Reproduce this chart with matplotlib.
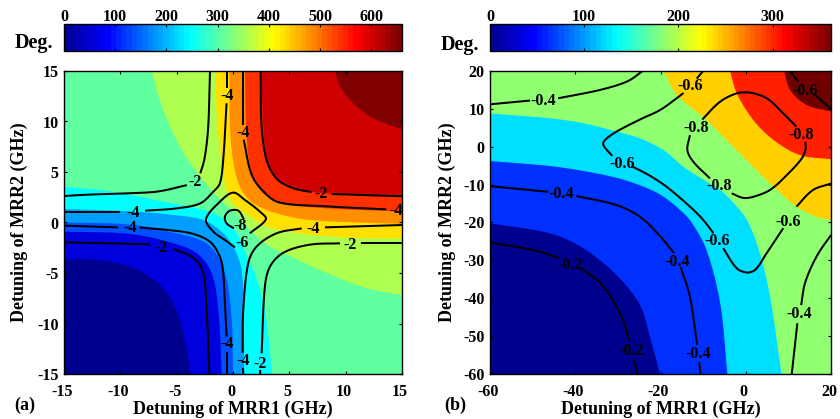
import numpy as np
import matplotlib
matplotlib.use("Agg")
import matplotlib.pyplot as plt
from matplotlib.cm import ScalarMappable
from matplotlib.colors import Normalize, LinearSegmentedColormap
from matplotlib.transforms import ScaledTranslation

plt.rcParams['font.family'] = ['Liberation Serif', 'DejaVu Serif']
plt.rcParams['font.weight'] = 'bold'
plt.rcParams['font.size'] = 11.5

# ---------- panel (a): filled band limits (MRR1 GHz, MRR2 GHz), high to low
a_colors = ['#800000', '#CF0000', '#FF3000', '#FF8F00', '#FFE000', '#AFFF50',
            '#60FF9F', '#00FFFF', '#009FFF', '#0050FF', '#0000DF', '#00008F']
a_b1 = [(9.04,15),(9.5,13.5),(10.5,12),(12.3,10.4),(15,9.2)]
a_b2 = [(2.54,15),(2.68,9.5),(3.05,6.2),(3.8,4.6),(5.3,3.5),(8,2.9),(15,2.6)]
a_b3 = [(1.06,15),(1.2,8.5),(1.65,4.9),(2.68,2.9),(4.46,1.9),(8.3,1.4),(15,1.1)]
a_b4 = [(-0.33,15),(-0.27,9.5),(0,6.2),(0.61,3.55),(1.8,1.9),(3.9,0.9),(6.8,0.25),(15,-0.15)]
a_b5 = [(-1.6,15),(-1.4,10),(-1.1,6.5),(-0.8,4.5),(-0.6,3.2),(0,1.9),(1.5,0.58),(3,-0.4),(5.9,-1.07),(10,-1.5),(15,-1.6)]
a_b6 = [(-7.2,15),(-6.5,12.1),(-5.3,8.8),(-3.8,5.86),(-2.05,3.4),(-0.6,1.7),(0.3,0.9),(1.5,-0.74),(3.3,-2.4),(5,-3.3),(8.3,-5),(11.85,-6.5),(15,-7.2)]
a_b7 = [(-15,3.55),(-10.6,3.05),(-6.2,2.06),(-2.64,1.24),(-1.16,0.58),(0.3,-1),(1.1,-3.0),(1.9,-5.0),(2.83,-8.66),(3.48,-15)]
a_b8 = [(-15,1.34),(-9.1,1.1),(-5.3,0.74),(-2.64,0.25),(-0.87,-1.07),(0.17,-2.7),(0.76,-4.7),(0.95,-9),(1,-15)]
a_b9 = [(-15,0),(-9.1,-0.2),(-5.3,-1),(-2.6,-1.9),(-1.3,-3.4),(-0.5,-6),(-0.1,-10),(0,-15)]
a_b10 = [(-15,-0.9),(-9.1,-1.14),(-5.3,-2.06),(-3.2,-3.05),(-1.9,-5),(-1.3,-8.7),(-1,-15)]
a_b11 = [(-15,-3.64),(-12.1,-3.71),(-9.1,-4.37),(-6.8,-5.85),(-5.3,-8),(-4.4,-11),(-3.76,-15)]
a_bands = [a_b1,a_b2,a_b3,a_b4,a_b5,a_b6,a_b7,a_b8,a_b9,a_b10,a_b11]

# ---------- panel (a): contour lines
a_lines = [
 [(-15,2.62),(-13,2.75),(-9.1,2.9),(-6.8,3.05),(-4.1,3.7)],
 [(-2.9,4.87),(-2.5,6.5),(-2.2,9.5),(-2.04,15)],
 [(-15,1.07),(-10,1.07)],
 [(-7.8,1.17),(-5,1.4),(-2.9,1.9),(-1.75,3.05),(-1.16,3.9),(-0.87,6.2),(-0.57,11.8)],
 [(-0.57,13.3),(-0.57,15)],
 [(0.91,15),(0.91,9.7)],
 [(0.95,8.2),(1.65,4.75),(2.68,3.1),(4.16,1.97),(8.3,1.6),(13.6,1.3)],
 [(2.45,15),(2.54,9.5),(2.98,6.2),(3.87,4.35),(5.35,3.4),(7,3)],
 [(8.75,2.82),(15,2.6)],
 [(0.17,-2.46),(-0.72,-1.73),(-1.75,-0.9),(-2.4,0.32),(-1.16,2.06),(0.02,2.96),(1.06,2.23),(2.39,1.07),(2.92,0.32),(1.5,-1.07)],
 [(0.97,0.32),(0.47,1.17),(-0.27,1.17),(-0.72,0.58),(-0.57,-0.08),(0.08,-0.58)],
 [(-15,-0.31),(-10.2,-0.48)],
 [(-8.25,-0.5),(-5.3,-0.8),(-3.5,-1.14),(-2.05,-1.9),(-1.3,-3.05),(-0.93,-4.37),(-0.72,-8),(-0.57,-11.3)],
 [(-0.57,-12.8),(-0.57,-15)],
 [(-15,-1.96),(-7.4,-2.16)],
 [(-5.3,-2.62),(-3.5,-3.55),(-2.63,-5),(-2.34,-8.66),(-2.1,-15)],
 [(6.1,-0.58),(3.87,-1.07),(2.09,-2.39),(1.35,-4.04),(0.91,-8.66),(0.85,-12.9)],
 [(0.88,-14.4),(0.91,-15)],
 [(8.16,-0.48),(15,-0.25)],
 [(9.5,-2.06),(6.8,-2.2),(4.46,-3),(3.28,-4.37),(2.83,-6.35),(2.54,-12.95)],
 [(2.42,-14.6),(2.4,-15)],
 [(11.4,-2),(15,-2)],
]
a_labels = [('-2',-3.37,4.04),('-4',-8.85,0.97),('-4',-0.57,12.5),('-4',0.91,8.9),('-4',14.46,1.1),
            ('-2',7.86,2.8),('-6',0.76,-2.0),('-8',0.67,-0.34),('-4',-9.1,-0.58),('-2',-6.4,-2.56),
            ('-4',-0.57,-12.0),('-4',0.91,-13.68),('-2',2.39,-14.0),('-4',7.12,-0.67),('-2',10.4,-2.2)]
a_ticks = [-15,-10,-5,0,5,10,15]

# ---------- panel (b): filled band limits, high to low
b_colors = ['#700000','#FF2000','#FFCF00','#90FF70','#00DFFF','#0030FF','#00008F']
b_b1 = [(9,20),(10.4,15),(14.3,11),(20,9.3)]
b_b2 = [(-3.7,20),(-2.1,14.1),(1.8,7),(6.5,1.8),(12.7,-2.2),(20,-3.3)]
b_b3 = [(-19.3,20),(-16.2,13.7),(-9.2,7),(-1.4,-1.75),(6.5,-10.55),(11.9,-15.8),(16.6,-18.5),(20,-19.4)]
b_b4 = [(-60,8.8),(-45.9,7.5),(-38.1,6.2),(-30.3,4),(-24.8,2.2),(-19.3,-0.87),(-14.6,-5.3),(-9.2,-9.2),(-6,-11.4),(-2.1,-15.8),(0.6,-20),(3.3,-28.1),(5.7,-39.6),(8.4,-60)]
b_b5 = [(-60,-3.77),(-45.9,-5.1),(-38.1,-6.4),(-30.3,-8.2),(-24.8,-10.2),(-20.1,-12.6),(-15.4,-16.7),(-12.7,-20),(-9.2,-27.3),(-6,-41.3),(-4.3,-60)]
b_b6 = [(-60,-20.2),(-45.9,-22.9),(-38.1,-26.8),(-30.3,-33.9),(-24.8,-41.8),(-22.5,-50.1),(-20.1,-60)]
b_bands = [b_b1,b_b2,b_b3,b_b4,b_b5,b_b6]

# ---------- panel (b): contour lines
b_lines = [
 [(-60,11.2),(-50.6,12.2)],
 [(-44,12.8),(-34.2,15),(-27.9,17.2),(-24.2,20)],
 [(-14.6,14.2),(-16.2,12.8),(-20.1,9.7),(-24.8,7.2),(-30.3,4),(-33,1.8),(-33.4,0.45),(-31.3,-2.45)],
 [(-11.5,18),(-10,20)],
 [(-26.8,-5.1),(-22.5,-7.65),(-18.6,-10.55),(-13.1,-15.8),(-10,-19.3),(-7.6,-22.8)],
 [(-5.3,-26.8),(-2.1,-32.1),(0.2,-33.2),(2.2,-32.5),(4.9,-28.1),(8.8,-21.5)],
 [(11.9,-15.8),(15.8,-11.4),(20,-9.7)],
 [(-60,-10.4),(-46.3,-11.9)],
 [(-39.7,-13),(-30.3,-15.4),(-24.8,-18.5),(-20.1,-23.6),(-16.8,-28.1)],
 [(-15.3,-31.7),(-13.1,-39.6),(-11.4,-52.3)],
 [(-10.9,-56.8),(-10.6,-60)],
 [(20,-23.3),(16.6,-29),(13.9,-36),(13,-41.8)],
 [(12.1,-46.6),(10.8,-60)],
 [(-60,-25.3),(-49.8,-27.3),(-43.6,-29.5)],
 [(-38.5,-32.1),(-33.4,-36.9),(-29.5,-44),(-27.2,-51.5)],
 [(-26.2,-56.3),(-25.4,-60)],
 [(10.4,20),(12.3,17.2)],
 [(16.2,13.7),(20,10.1)],
 [(-10.2,7.2),(-6,11.9),(-2.1,14.1),(1,14.3),(4.9,12.8),(8.8,8.8),(11.9,5.3)],
 [(14,1.3),(14,-0.8),(13,-3.3),(9.6,-7.5),(5.7,-11.4),(1.8,-13.2),(-0.6,-13.5),(-3.3,-12.3)],
 [(-8.4,-8.35),(-12.3,-3.95),(-13.7,-0.87),(-13.1,3.1)],
]
b_labels = [('-0.4',-47.5,12.2),('-0.6',-29.1,-4.56),('-0.6',-13.1,16),('-0.4',-43.4,-12.6),('-0.6',-6.7,-25),
            ('-0.6',10,-19.8),('-0.4',-16.2,-30.5),('-0.4',-11.1,-54.8),('-0.4',12.5,-44.2),('-0.2',-41.2,-31.2),
            ('-0.2',-26.8,-53.9),('-0.6',14,14.8),('-0.8',13,3.1),('-0.8',-6.3,-10.4),('-0.8',-11.7,5)]
b_xticks = [-60,-40,-20,0,20]
b_yticks = [-60,-50,-40,-30,-20,-10,0,10,20]

# ---------- colour bars
a_cbar_max, a_cbar_ticks = 660, [0,100,200,300,400,500,600]
b_cbar_max, b_cbar_ticks = 362, [0,100,200,300]
jet_nodes = [(0,(0,0,0.5625)),(1/8,(0,0,1)),(3/8,(0,1,1)),(5/8,(1,1,0)),(7/8,(1,0,0)),(1,(0.5,0,0))]


def smooth(points, n=14):
    p = np.asarray(points, float)
    if len(p) < 3:
        return p
    span = p.max(axis=0) - p.min(axis=0)
    span[span == 0] = 1
    q = p / span
    d = np.hypot(*np.diff(q, axis=0).T)
    m = np.zeros_like(p)
    for i in range(1, len(p) - 1):
        m[i] = (p[i + 1] - p[i - 1]) / (d[i] + d[i - 1])
    m[0] = (p[1] - p[0]) / d[0]
    m[-1] = (p[-1] - p[-2]) / d[-1]
    out = []
    for i in range(len(p) - 1):
        t = np.linspace(0, 1, n, endpoint=False)[:, None]
        h = d[i]
        out.append((2*t**3-3*t**2+1)*p[i] + (t**3-2*t**2+t)*h*m[i]
                   + (-2*t**3+3*t**2)*p[i+1] + (t**3-t**2)*h*m[i+1])
    out.append(p[-1:])
    return np.vstack(out)


def draw_bands(ax, bands, colors, xr, yr):
    ax.set_facecolor(colors[0])
    for bound, col in zip(bands, colors[1:]):
        pts = smooth(bound)
        tail = []
        if bound[-1][0] >= xr[1]:
            tail.append((xr[1], yr[0]))
        tail.append((xr[0], yr[0]))
        if bound[0][1] >= yr[1]:
            tail.append((xr[0], yr[1]))
        poly = np.vstack([pts, tail])
        ax.fill(poly[:, 0], poly[:, 1], color=col, lw=0, zorder=1)


def draw_lines(ax, lines, labels):
    for seg in lines:
        s = smooth(seg)
        ax.plot(s[:, 0], s[:, 1], color='k', lw=1.45, zorder=2, solid_capstyle='butt')
    for txt, x, y in labels:
        ax.text(x, y, txt, ha='center', va='center', fontsize=11.5, zorder=3, clip_on=True)


def style(ax, xr, yr, xt, yt, ylab_x):
    ax.set_xlim(xr); ax.set_ylim(yr)
    ax.set_xticks(xt); ax.set_yticks(yt)
    ax.set_xticklabels([str(v) for v in xt]); ax.set_yticklabels([str(v) for v in yt])
    ax.tick_params(direction='in', top=True, right=True, length=2.5, width=0.8, labelsize=11.5)
    ax.tick_params(axis='x', pad=7)
    ax.tick_params(axis='y', pad=4)
    shift = ScaledTranslation(-2/100, 0, ax.figure.dpi_scale_trans)
    for lab in ax.get_xticklabels():
        lab.set_transform(lab.get_transform() + shift)
    for s in ax.spines.values():
        s.set_linewidth(1.0)
        s.set_zorder(5)
    ax.set_xlabel('Detuning of MRR1 (GHz)', fontsize=13, labelpad=1, fontweight='bold')
    ax.set_ylabel('Detuning of MRR2 (GHz)', fontsize=13, fontweight='bold')
    ax.yaxis.set_label_coords(ylab_x, 0.5)


def colorbar(fig, rect, vmax, ticks):
    cax = fig.add_axes(rect)
    cmap = LinearSegmentedColormap.from_list('mjet', jet_nodes, N=64)
    sm = ScalarMappable(Normalize(0, vmax), cmap)
    cb = fig.colorbar(sm, cax=cax, orientation='horizontal')
    cb.solids.set_edgecolor('face')
    cb.set_ticks(ticks)
    cb.set_ticklabels([str(t) for t in ticks])
    cax.tick_params(direction='in', top=True, bottom=True, labeltop=True, labelbottom=False,
                    length=2.5, width=0.8, pad=-1, labelsize=11.5)
    cb.outline.set_linewidth(1.0)
    return cax


W, H = 840, 419
fig = plt.figure(figsize=(W/100, H/100), dpi=100, facecolor='white')


def rect(l, t, r, b):
    return [l/W, 1-b/H, (r-l)/W, (b-t)/H]


ax1 = fig.add_axes(rect(64, 71, 402, 374))
draw_bands(ax1, a_bands, a_colors, (-15, 15), (-15, 15))
draw_lines(ax1, a_lines, a_labels)
style(ax1, (-15, 15), (-15, 15), a_ticks, a_ticks, -0.106)

ax2 = fig.add_axes(rect(490, 71, 831, 374))
draw_bands(ax2, b_bands, b_colors, (-60, 20), (-60, 20))
draw_lines(ax2, b_lines, b_labels)
style(ax2, (-60, 20), (-60, 20), b_xticks, b_yticks, -0.1)

colorbar(fig, rect(64, 24, 402, 51), a_cbar_max, a_cbar_ticks)
colorbar(fig, rect(490, 24, 831, 51), b_cbar_max, b_cbar_ticks)

fig.text(15/W, 1-43/H, 'Deg.', fontsize=14.5, va='center', ha='left')
fig.text(441/W, 1-45/H, 'Deg.', fontsize=14.5, va='center', ha='left')
fig.text(14/W, 1-405/H, '(a)', fontsize=13, va='center', ha='left')
fig.text(444/W, 1-405/H, '(b)', fontsize=13, va='center', ha='left')

fig.savefig('out.png', dpi=100)
